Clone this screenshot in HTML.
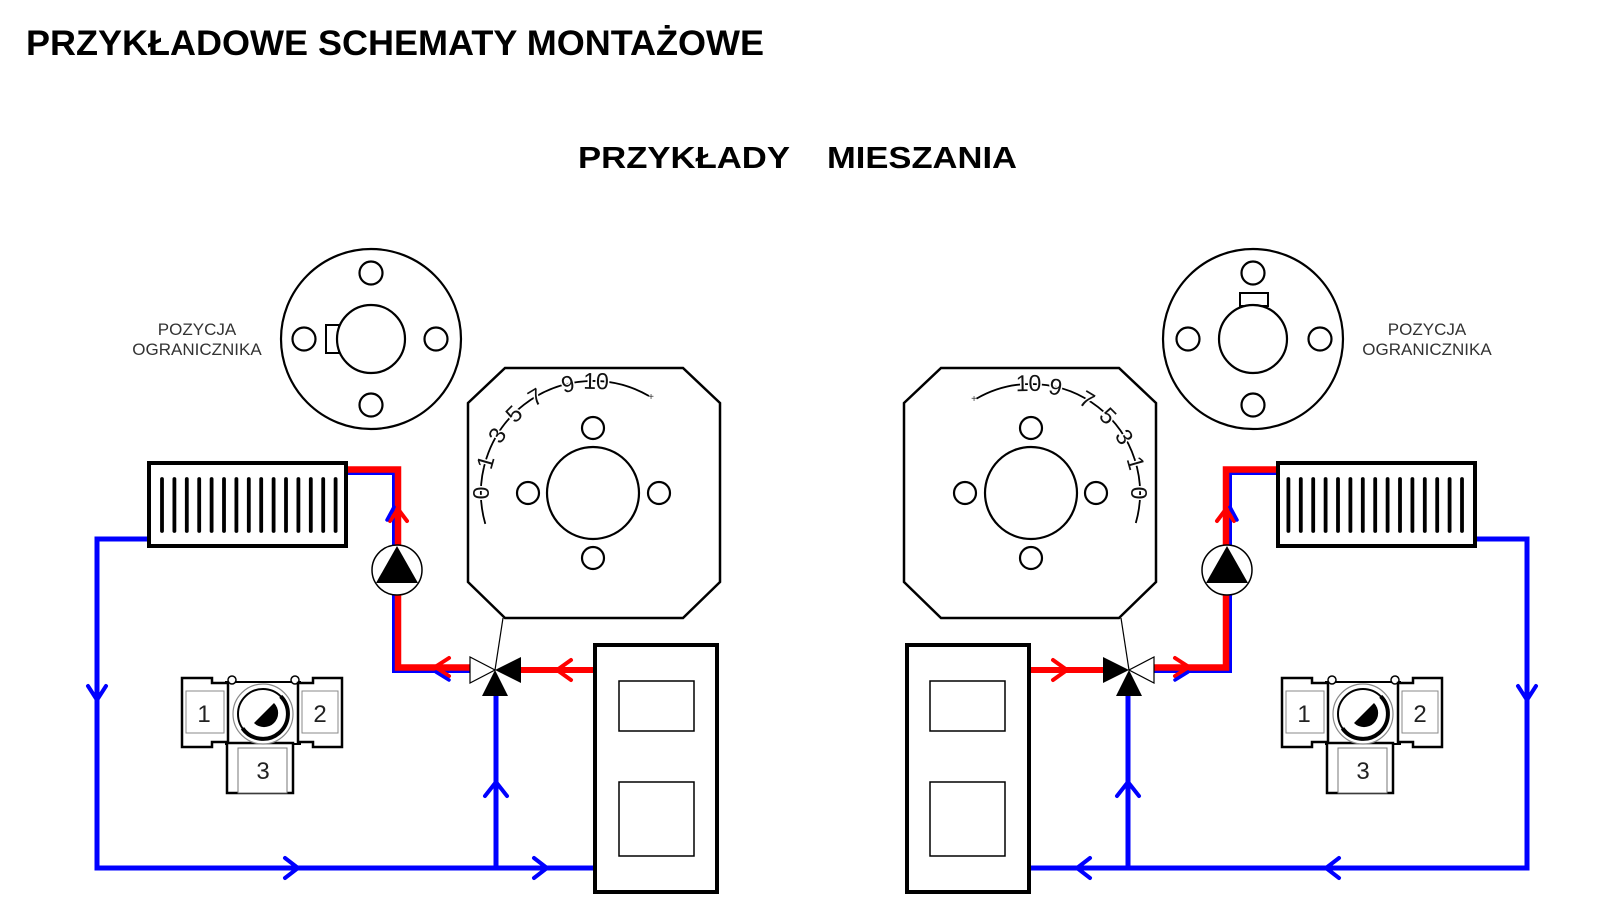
<!DOCTYPE html>
<html>
<head>
<meta charset="utf-8">
<style>
  html,body{margin:0;padding:0;background:#fff;}
  svg{display:block;}
  text{font-family:"Liberation Sans", Arial, sans-serif;}
</style>
</head>
<body>
<svg width="1600" height="906" viewBox="0 0 1600 906" xmlns="http://www.w3.org/2000/svg">
  <rect width="1600" height="906" fill="#fff"/>

  <!-- Titles -->
  <text x="26" y="55" font-size="35" font-weight="bold" fill="#000" textLength="738" lengthAdjust="spacingAndGlyphs">PRZYKŁADOWE SCHEMATY MONTAŻOWE</text>
  <text x="578" y="168" font-size="31" font-weight="bold" fill="#000" textLength="212" lengthAdjust="spacingAndGlyphs">PRZYKŁADY</text>
  <text x="827" y="168" font-size="31" font-weight="bold" fill="#000" textLength="190" lengthAdjust="spacingAndGlyphs">MIESZANIA</text>

  <!-- LEFT SCHEME (shapes only, mirrored for the right side) -->
  <g id="L">
    <path d="M150,539 H97 V868 H596" stroke="#0000ff" stroke-width="5" fill="none"/>
    <path d="M496,868 V690" stroke="#0000ff" stroke-width="5" fill="none"/>
    <path d="M346,473.5 H393.5 V671.5 H470" stroke="#0000ff" stroke-width="3" fill="none"/>
    <path d="M346,469.5 H398 V548" stroke="#ff0000" stroke-width="6.5" fill="none"/>
    <path d="M398,592 V667.5 H470" stroke="#ff0000" stroke-width="6.5" fill="none"/>
    <path d="M520,670 H596" stroke="#ff0000" stroke-width="6" fill="none"/>

    <g fill="none" stroke-linecap="round" stroke-linejoin="round">
      <path d="M88,686 L97,700 L106,686" stroke="#0000ff" stroke-width="4"/>
      <path d="M285,858 L298,868 L285,878" stroke="#0000ff" stroke-width="4"/>
      <path d="M534,858 L547,868 L534,878" stroke="#0000ff" stroke-width="4"/>
      <path d="M485,796 L496,782 L507,796" stroke="#0000ff" stroke-width="4"/>
      <path d="M571,660 L557,670 L571,680" stroke="#ff0000" stroke-width="4"/>
      <path d="M449,658 L435,667 L449,676" stroke="#ff0000" stroke-width="4"/>
      <path d="M436,672 L449,680" stroke="#0000ff" stroke-width="3.5"/>
      <path d="M390,521 L398,509 L407,521" stroke="#ff0000" stroke-width="4"/>
      <path d="M394,507 L387,520" stroke="#0000ff" stroke-width="3.5"/>
    </g>

    <rect x="149" y="463" width="197" height="83" fill="#fff" stroke="#000" stroke-width="4"/>
    <g stroke="#000" stroke-width="3.8" stroke-linecap="round">
      <line x1="162" y1="479" x2="162" y2="531"/>
      <line x1="174.4" y1="479" x2="174.4" y2="531"/>
      <line x1="186.8" y1="479" x2="186.8" y2="531"/>
      <line x1="199.2" y1="479" x2="199.2" y2="531"/>
      <line x1="211.6" y1="479" x2="211.6" y2="531"/>
      <line x1="224" y1="479" x2="224" y2="531"/>
      <line x1="236.4" y1="479" x2="236.4" y2="531"/>
      <line x1="248.8" y1="479" x2="248.8" y2="531"/>
      <line x1="261.2" y1="479" x2="261.2" y2="531"/>
      <line x1="273.6" y1="479" x2="273.6" y2="531"/>
      <line x1="286" y1="479" x2="286" y2="531"/>
      <line x1="298.4" y1="479" x2="298.4" y2="531"/>
      <line x1="310.8" y1="479" x2="310.8" y2="531"/>
      <line x1="323.2" y1="479" x2="323.2" y2="531"/>
      <line x1="335.6" y1="479" x2="335.6" y2="531"/>
    </g>

    <circle cx="397" cy="570" r="25" fill="#fff" stroke="#000" stroke-width="1.5"/>
    <polygon points="397,546 376,583 418,583" fill="#000"/>

    <line x1="503" y1="618" x2="495" y2="670" stroke="#000" stroke-width="1.2"/>

    <polygon points="470,657 470,683 495,670" fill="#fff" stroke="#000" stroke-width="1.2"/>
    <polygon points="521,657 521,683 495,670" fill="#000"/>
    <polygon points="482,696 508,696 495,670" fill="#000"/>

    <rect x="595" y="645" width="122" height="247" fill="#fff" stroke="#000" stroke-width="4"/>
    <rect x="619" y="681" width="75" height="50" fill="none" stroke="#000" stroke-width="1.5"/>
    <rect x="619" y="782" width="75" height="74" fill="none" stroke="#000" stroke-width="1.5"/>

    <polygon points="505,368 683,368 720,403 720,582 683,618 505,618 468,582 468,403" fill="none" stroke="#000" stroke-width="2.5"/>
    <g fill="none" stroke="#000" stroke-width="2.2">
      <circle cx="593" cy="493" r="46"/>
      <circle cx="593" cy="428" r="11"/>
      <circle cx="593" cy="558" r="11"/>
      <circle cx="528" cy="493" r="11"/>
      <circle cx="659" cy="493" r="11"/>
    </g>
  </g>

  <use href="#L" transform="translate(1624,0) scale(-1,1)"/>

  <!-- LEFT dial scale -->
  <path d="M485.3,523.9 A112,112 0 0 1 649,396" fill="none" stroke="#000" stroke-width="1.8"/>
  <g font-size="23" text-anchor="middle" dominant-baseline="central" fill="#111" stroke="#fff" stroke-width="3" paint-order="stroke">
    <text transform="translate(481,493) rotate(-90)">0</text>
    <text transform="translate(485.3,462.1) rotate(-74)">1</text>
    <text transform="translate(497,435.3) rotate(-59)">3</text>
    <text transform="translate(513.8,413.8) rotate(-45)">5</text>
    <text transform="translate(535.3,397) rotate(-31)">7</text>
    <text transform="translate(567.8,383.9) rotate(-13)">9</text>
    <text transform="translate(596,381) rotate(1)">10</text>
  </g>
  <text x="651" y="400" font-size="10" text-anchor="middle" fill="#333">+</text>

  <!-- RIGHT dial scale -->
  <path d="M1135.8,523 A109,109 0 0 0 976.5,398.6" fill="none" stroke="#000" stroke-width="1.8"/>
  <g font-size="23" text-anchor="middle" dominant-baseline="central" fill="#111" stroke="#fff" stroke-width="3" paint-order="stroke">
    <text transform="translate(1139,493) rotate(90)">0</text>
    <text transform="translate(1135.8,463) rotate(74)">1</text>
    <text transform="translate(1124.4,436.9) rotate(59)">3</text>
    <text transform="translate(1108.1,415.9) rotate(45)">5</text>
    <text transform="translate(1087.1,399.6) rotate(31)">7</text>
    <text transform="translate(1055.5,386.8) rotate(13)">9</text>
    <text transform="translate(1028.5,383) rotate(-1)">10</text>
  </g>
  <text x="974" y="402" font-size="10" text-anchor="middle" fill="#333">+</text>

  <!-- LEFT flange -->
  <g fill="#fff" stroke="#000" stroke-width="2.2">
    <circle cx="371" cy="339" r="90"/>
    <circle cx="371" cy="273" r="11.5"/>
    <circle cx="371" cy="405" r="11.5"/>
    <circle cx="304" cy="339" r="11.5"/>
    <circle cx="436" cy="339" r="11.5"/>
    <rect x="326" y="325" width="13" height="28" stroke-width="2"/>
    <circle cx="371" cy="339" r="34"/>
  </g>
  <g font-size="17" text-anchor="middle" fill="#333">
    <text x="197" y="335">POZYCJA</text>
    <text x="197" y="355">OGRANICZNIKA</text>
  </g>

  <!-- RIGHT flange -->
  <g fill="#fff" stroke="#000" stroke-width="2.2">
    <circle cx="1253" cy="339" r="90"/>
    <circle cx="1253" cy="273" r="11.5"/>
    <circle cx="1253" cy="405" r="11.5"/>
    <circle cx="1188" cy="339" r="11.5"/>
    <circle cx="1320" cy="339" r="11.5"/>
    <rect x="1240" y="293" width="28" height="13" stroke-width="2"/>
    <circle cx="1253" cy="339" r="34"/>
  </g>
  <g font-size="17" text-anchor="middle" fill="#333">
    <text x="1427" y="335">POZYCJA</text>
    <text x="1427" y="355">OGRANICZNIKA</text>
  </g>

  <!-- LEFT valve picture -->
  <g>
    <g stroke="#000" fill="#fff">
      <rect x="226" y="682" width="74" height="62" stroke-width="2"/>
      <circle cx="232" cy="680" r="4" stroke-width="1.5"/>
      <circle cx="295" cy="680" r="4" stroke-width="1.5"/>
      <rect x="227" y="743" width="66" height="50" stroke-width="2.5"/>
      <rect x="238" y="748" width="49" height="45" stroke="#777" stroke-width="1"/>
      <path d="M182,678 H212 V683 H228 V742 H212 V747 H182 Z" stroke-width="2.5"/>
      <rect x="186" y="691" width="38" height="42" stroke="#888" stroke-width="1"/>
      <path d="M342,678 H313 V683 H298 V742 H313 V747 H342 Z" stroke-width="2.5"/>
      <rect x="302" y="691" width="36" height="42" stroke="#888" stroke-width="1"/>
      <circle cx="263" cy="714" r="30" stroke="#888" stroke-width="1.2"/>
      <circle cx="263" cy="714" r="25" stroke-width="2"/>
    </g>
    <path d="M280.7,696.3 A25,25 0 1 1 242.5,728.3" fill="none" stroke="#000" stroke-width="4"/>
    <path d="M254,723 L274,703 A14,14 0 0 1 254,723 Z" fill="#000"/>
    <g font-size="24" text-anchor="middle" fill="#222">
      <text x="204" y="722">1</text>
      <text x="320" y="722">2</text>
      <text x="263" y="779">3</text>
    </g>
  </g>

  <!-- RIGHT valve picture -->
  <g transform="translate(1100,0)">
    <g stroke="#000" fill="#fff">
      <rect x="226" y="682" width="74" height="62" stroke-width="2"/>
      <circle cx="232" cy="680" r="4" stroke-width="1.5"/>
      <circle cx="295" cy="680" r="4" stroke-width="1.5"/>
      <rect x="227" y="743" width="66" height="50" stroke-width="2.5"/>
      <rect x="238" y="748" width="49" height="45" stroke="#777" stroke-width="1"/>
      <path d="M182,678 H212 V683 H228 V742 H212 V747 H182 Z" stroke-width="2.5"/>
      <rect x="186" y="691" width="38" height="42" stroke="#888" stroke-width="1"/>
      <path d="M342,678 H313 V683 H298 V742 H313 V747 H342 Z" stroke-width="2.5"/>
      <rect x="302" y="691" width="36" height="42" stroke="#888" stroke-width="1"/>
      <circle cx="263" cy="714" r="30" stroke="#888" stroke-width="1.2"/>
      <circle cx="263" cy="714" r="25" stroke-width="2"/>
    </g>
    <path d="M280.7,696.3 A25,25 0 1 1 242.5,728.3" fill="none" stroke="#000" stroke-width="4"/>
    <path d="M254,723 L274,703 A14,14 0 0 1 254,723 Z" fill="#000"/>
    <g font-size="24" text-anchor="middle" fill="#222">
      <text x="204" y="722">1</text>
      <text x="320" y="722">2</text>
      <text x="263" y="779">3</text>
    </g>
  </g>
</svg>
</body>
</html>
